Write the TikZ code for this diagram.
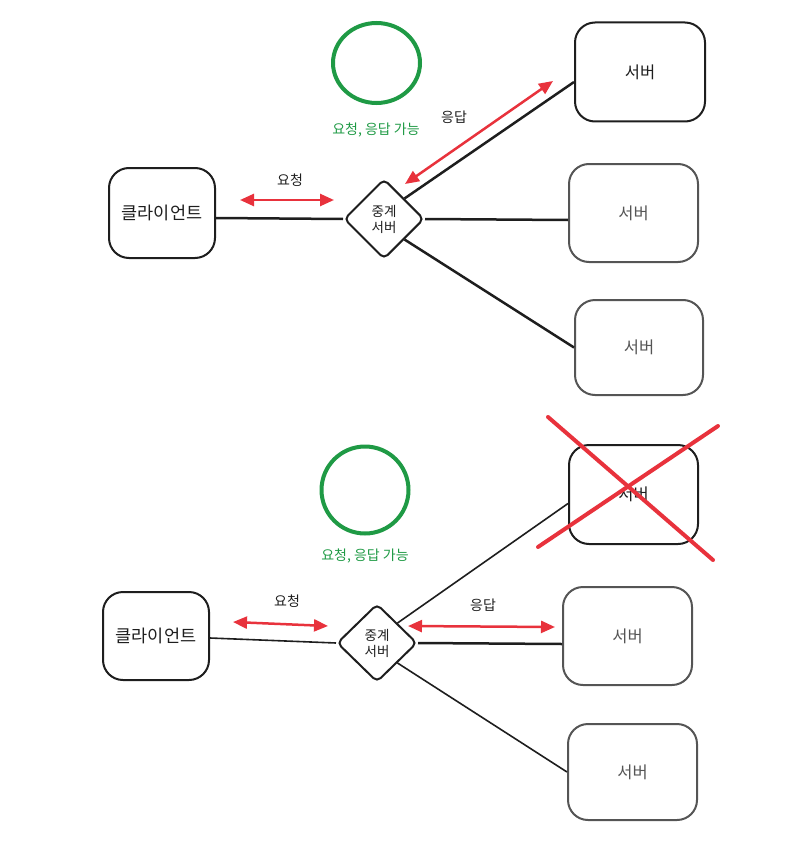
\documentclass[tikz,border=0pt]{standalone}
\usepackage{fontspec}
\setmainfont{Noto Sans CJK KR}
\usetikzlibrary{shapes.geometric,arrows.meta,calc}
\definecolor{ink}{HTML}{1E1E1E}
\definecolor{soft}{HTML}{555555}
\definecolor{okgreen}{HTML}{1F9A45}
\definecolor{alert}{HTML}{E8323C}
\tikzset{
  box/.style={draw=ink, line width=2pt, rounded corners=20pt, fill=white, text=ink,
    font=\fontsize{16.5}{19}\selectfont, inner sep=0pt},
  clientbox/.style={box, font=\fontsize{17.5}{20}\selectfont},
  softbox/.style={box, draw=soft, text=soft},
  relay/.style={diamond, draw=ink, line width=2pt, rounded corners=5pt, fill=white,
    minimum width=80pt, minimum height=80pt, inner sep=0pt, align=center,
    font=\fontsize{13.5}{16}\selectfont, text=ink},
  wire/.style={draw=ink, line width=2.5pt},
  thinwire/.style={draw=ink, line width=1.6pt},
  redarrow/.style={draw=alert, line width=2.5pt,
    {Triangle[length=14pt,width=12pt]}-{Triangle[length=14pt,width=12pt]}},
  lbl/.style={font=\fontsize{14}{16}\selectfont, text=ink},
  greenlbl/.style={font=\fontsize{14}{16}\selectfont, text=okgreen},
  ring/.style={draw=okgreen, line width=4pt},
  cross/.style={draw=alert, line width=4pt, line cap=round}
}
\begin{document}
\begin{tikzpicture}[x=1pt,y=-1pt]
\useasboundingbox (0,0) rectangle (789,848);

% ---------- top ----------
\node[clientbox, minimum width=106pt, minimum height=90pt] (c1) at (162,213) {클라이언트};
\node[relay] (r1) at (384,219) {중계\\서버};
\node[box, minimum width=130pt, minimum height=99pt] (s1a) at (640,72) {서버};
\node[softbox, minimum width=129pt, minimum height=98pt] (s1b) at (633.5,213) {서버};
\node[softbox, minimum width=128pt, minimum height=95pt] (s1c) at (639,347.5) {서버};

\draw[wire] ([yshift=-5pt]c1.east) -- (r1.west);
\draw[wire] (r1.north east) -- ([yshift=-10pt]s1a.west);
\draw[wire] (r1.east) -- ([yshift=-7pt]s1b.west);
\draw[wire] (r1.south east) -- (s1c.west);

\node[ring, ellipse, minimum width=87pt, minimum height=80pt, inner sep=0pt] (g1) at (376.5,63) {};
\node[greenlbl] (gt1) at (376,130) {요청, 응답 가능};

\node[lbl] (q1) at (290,180) {요청};
\coordinate (q1a) at (240,200);
\coordinate (q1b) at (334,200);
\draw[redarrow] (q1a) -- (q1b);

\node[lbl] (p1) at (454,117) {응답};
\coordinate (p1a) at (553,81);
\coordinate (p1b) at (405,184);
\draw[redarrow] (p1a) -- (p1b);

% ---------- bottom ----------
\node[clientbox, minimum width=106pt, minimum height=88pt] (c2) at (156,636) {클라이언트};
\node[relay, minimum height=78pt] (r2) at (377,643) {중계\\서버};
\node[box, minimum width=129pt, minimum height=99pt] (s2a) at (633.5,494.5) {서버};
\node[softbox, minimum width=129pt, minimum height=98pt] (s2b) at (627.5,636) {서버};
\node[softbox, minimum width=129pt, minimum height=96pt] (s2c) at (632.5,772) {서버};

\draw[thinwire] ([yshift=-2pt]c2.east) -- (r2.west);
\draw[thinwire] (r2.north east) -- ([yshift=-9pt]s2a.west);
\draw[wire] (r2.east) -- ([yshift=-8pt]s2b.west);
\draw[thinwire] (r2.south east) -- (s2c.west);

\coordinate (x1a) at (548,417);
\coordinate (x1b) at (713,560);
\coordinate (x2a) at (718,426);
\coordinate (x2b) at (538,547);
\draw[cross] (x1a) -- (x1b);
\draw[cross] (x2a) -- (x2b);

\node[ring, circle, minimum size=87pt, inner sep=0pt] (g2) at (365,490) {};
\node[greenlbl] (gt2) at (365,556) {요청, 응답 가능};

\node[lbl] (q2) at (287,601) {요청};
\coordinate (q2a) at (233,622);
\coordinate (q2b) at (328,626);
\draw[redarrow] (q2a) -- (q2b);

\node[lbl] (p2) at (483,605) {응답};
\coordinate (p2a) at (408,626);
\coordinate (p2b) at (555,627);
\draw[redarrow] (p2a) -- (p2b);
\end{tikzpicture}
\end{document}
